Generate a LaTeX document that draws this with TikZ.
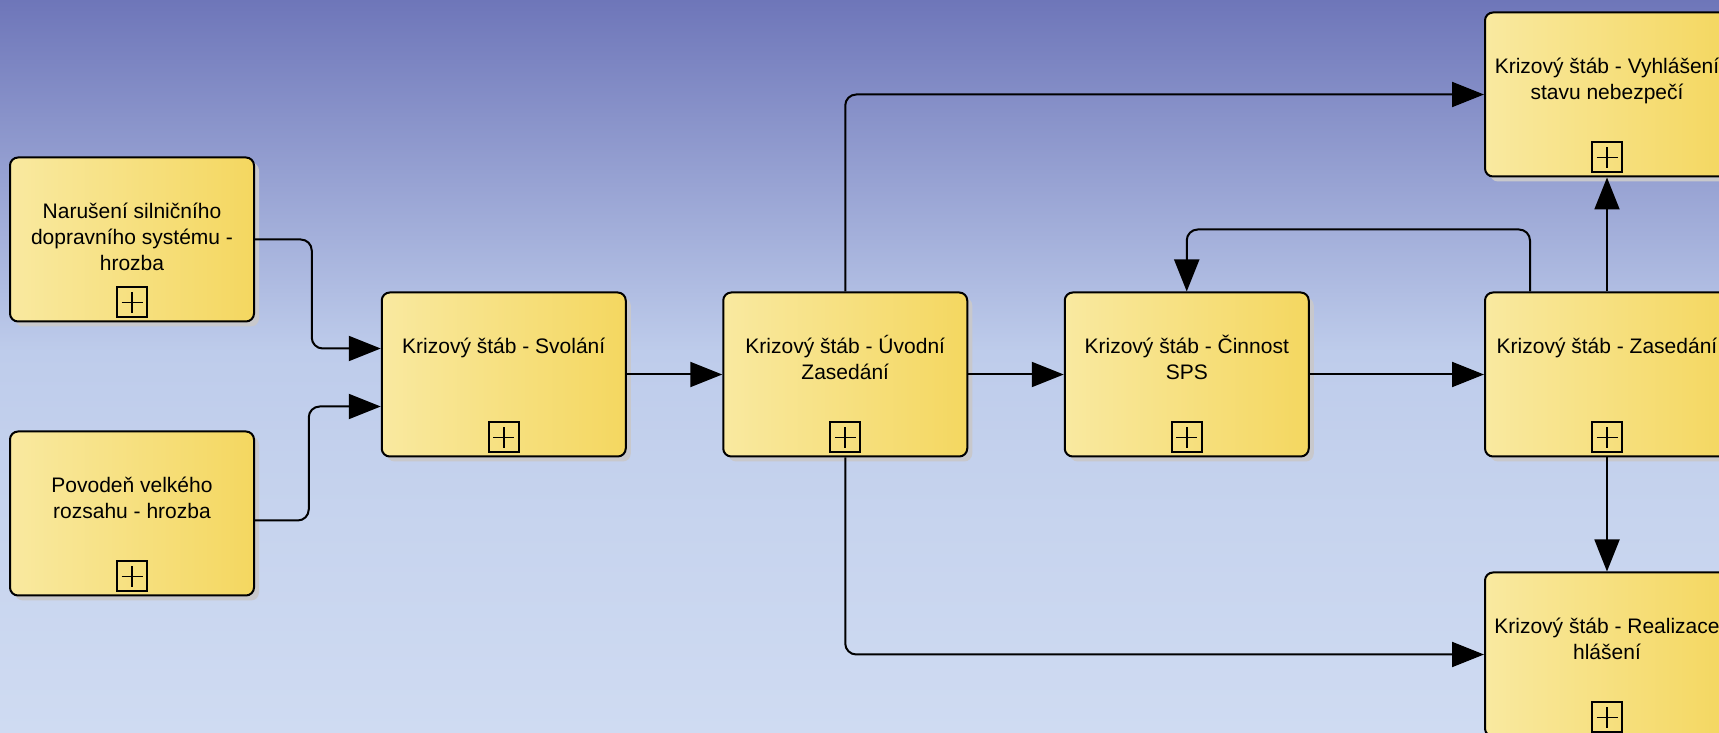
\documentclass[tikz,border=0pt]{standalone}
\usepackage{fontspec}
\setmainfont{Liberation Sans}
\usetikzlibrary{arrows.meta,positioning,shadows}
\definecolor{cSkyTop}{HTML}{6E76B9}
\definecolor{cSkyMid}{HTML}{BECCEB}
\definecolor{cSkyLow}{HTML}{C7D4EE}
\definecolor{cSkyBot}{HTML}{CFDBF2}
\definecolor{cTaskL}{HTML}{F9E9A0}
\definecolor{cTaskR}{HTML}{F4D760}
\definecolor{cShd}{HTML}{C8C8CC}
\pgfdeclareverticalshading{sky}{100bp}{color(0bp)=(cSkyBot); color(25bp)=(cSkyBot);
  color(39bp)=(cSkyLow); color(51bp)=(cSkyMid); color(75bp)=(cSkyTop); color(100bp)=(cSkyTop)}
\tikzset{
  task/.style  ={rounded corners=8pt,draw=black,line width=2pt,
                 left color=cTaskL,right color=cTaskR,
                 minimum width=244pt,minimum height=164pt,inner sep=0pt,
                 drop shadow={shadow xshift=5pt,shadow yshift=-5pt,fill=cShd,opacity=1},
                 path picture={
                   \draw[line width=2pt,sharp corners]
                     ([xshift=-15pt,yshift=4pt]path picture bounding box.south) rectangle ++(30pt,30pt);
                   \draw[line width=1.8pt]
                     ([xshift=-10.5pt,yshift=19pt]path picture bounding box.south) -- ++(21pt,0pt)
                     ([yshift=8.5pt]path picture bounding box.south) -- ++(0pt,21pt);
                 }},
  ttl/.style   ={font=\fontsize{21}{26}\selectfont,align=center,inner sep=0pt},
  ar/.style    ={-{Triangle[length=32pt,width=25pt]},line width=2pt,rounded corners=11pt},
}
\begin{document}
\begin{tikzpicture}[x=1pt,y=1pt]
\useasboundingbox (0,0) rectangle (1719,733);
% sky
\shade[shading=sky] (0,0) rectangle (1719,733);
% threats
\node[task] (nar) at (132,493.5) {};
\node[task,below=108pt of nar] (pov) {};
% main row
\node[task] (svol) at (503.75,358.5) {};
\node[task,right=95.5pt of svol] (uvod) {};
\node[task,right=95.5pt of uvod] (cinn) {};
\node[task] (zased) at (1607,358.5) {};
\node[task,above=114pt of zased] (vyhl) {};
\node[task,below=114pt of zased] (real) {};
% titles
\node[ttl,below=43.8pt of nar.north] (narT) {\strut Narušení silničního\\dopravního systému -\\hrozba};
\node[ttl,below=43.8pt of pov.north] (povT) {\strut Povodeň velkého\\rozsahu - hrozba};
\node[ttl,below=43.8pt of svol.north] (svolT) {\strut Krizový štáb - Svolání};
\node[ttl,below=43.8pt of uvod.north] (uvodT) {\strut Krizový štáb - Úvodní\\Zasedání};
\node[ttl,below=43.8pt of cinn.north] (cinnT) {\strut Krizový štáb - Činnost\\SPS};
\node[ttl,below=43.8pt of zased.north] (zasedT) {\strut Krizový štáb - Zasedání};
\node[ttl,below=43.8pt of vyhl.north] (vyhlT) {\strut Krizový štáb - Vyhlášení\\stavu nebezpečí};
\node[ttl,below=43.8pt of real.north] (realT) {\strut Krizový štáb - Realizace\\hlášení};
% flows into the first session
\coordinate (inA) at ([yshift=26pt]svol.west);
\coordinate (inB) at ([yshift=-32pt]svol.west);
\draw[ar] (nar.east) -| ([xshift=-69pt]inA) -- (inA);
\draw[ar] ([yshift=-7pt]pov.east) -| ([xshift=-72pt]inB) -- (inB);
% main flow
\draw[ar] (svol) -- (uvod);
\draw[ar] (uvod) -- (cinn);
\draw[ar] (cinn) -- (zased);
\draw[ar] (uvod.north) |- (vyhl.west);
\draw[ar] (uvod.south) |- (real.west);
\draw[ar] (zased) -- (vyhl);
\draw[ar] (zased) -- (real);
% loop back
\coordinate (loopA) at ([xshift=-77pt,yshift=62pt]zased.north);
\draw[ar] ([xshift=-77pt]zased.north) -- (loopA) -| (cinn);
\end{tikzpicture}
\end{document}
